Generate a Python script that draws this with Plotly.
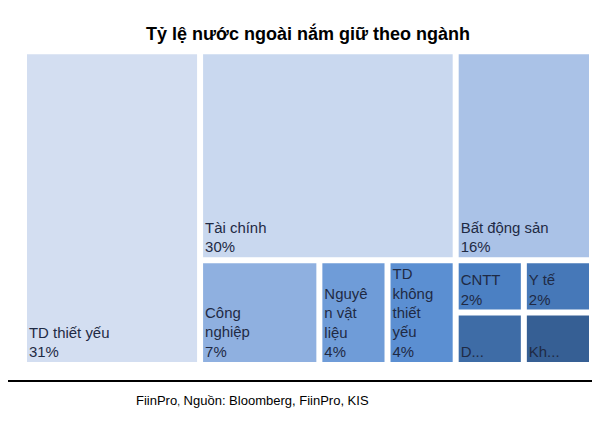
import plotly.graph_objects as go

# hierarchy: invisible group nodes shape the layout like the reference
ids = ["all", "TD thiết yếu", "R", "Top", "Bottom", "Tài chính", "Bất động sản",
       "Công nghiệp", "Nguyên vật liệu", "TD không thiết yếu", "S", "S1", "S2",
       "CNTT", "Y tế", "Dịch vụ", "Khác"]
parents = ["", "all", "all", "R", "R", "Top", "Top",
           "Bottom", "Bottom", "Bottom", "Bottom", "S", "S",
           "S1", "S1", "S2", "S2"]
values = [0, 31, 0, 0, 0, 30, 16, 7, 4, 4, 0, 0, 0, 2, 2, 2, 2]
shown = ["", "TD thiết yếu<br>31%", "", "", "", "Tài chính<br>30%", "Bất động sản<br>16%",
         "Công<br>nghiệp<br>7%", "Nguyê<br>n vật<br>liệu<br>4%", "TD<br>không<br>thiết<br>yếu<br>4%",
         "", "", "", "CNTT<br>2%", "Y tế<br>2%", "D...", "Kh..."]
colors = ["white", "#d3def1", "white", "white", "white", "#c9d8ef", "#aac2e7",
          "#8fb0e0", "#6f9cd8", "#5b8fd2", "white", "white", "white",
          "#4b80c3", "#4678b8", "#3e6ca6", "#365f94"]
positions = ["bottom left"] * 13 + ["top left", "top left", "bottom left", "bottom left"]

fig = go.Figure(go.Treemap(
    ids=ids,
    labels=ids,
    parents=parents,
    values=values,
    branchvalues="remainder",
    text=shown,
    texttemplate="%{text}",
    textposition="bottom left",
    textfont=dict(family="Liberation Sans", size=15, color="#1f2a44"),
    marker=dict(colors=colors, line=dict(color="white", width=2), pad=dict(t=0, l=0, r=0, b=0)),
    tiling=dict(packing="slice-dice", pad=4),
    pathbar=dict(visible=False),
    sort=False,
    domain=dict(x=[0.03, 0.97], y=[0.159, 0.893]),
    hoverinfo="label+value",
))

fig.update_layout(
    width=600, height=422,
    margin=dict(l=0, r=0, t=0, b=0),
    paper_bgcolor="white",
    uniformtext=dict(minsize=14, mode="show"),
    title=dict(text="<b>Tỷ lệ nước ngoài nắm giữ theo ngành</b>", x=0.5, y=0.955,
               xanchor="center", font=dict(family="Liberation Sans", size=18, color="black")),
    shapes=[dict(type="line", xref="paper", yref="paper", x0=0, x1=0.985,
                 y0=1 - 373 / 422, y1=1 - 373 / 422, line=dict(color="black", width=2))],
    annotations=[dict(text="FiinPro<span style='font-size:10px'>,</span> Nguồn: Bloomberg, FiinPro, KIS",
                      xref="paper", yref="paper", x=0.21, y=1 - 392 / 422,
                      xanchor="left", yanchor="middle", showarrow=False,
                      font=dict(family="Liberation Sans", size=13, color="black"))],
)

fig.write_html("out.html")
